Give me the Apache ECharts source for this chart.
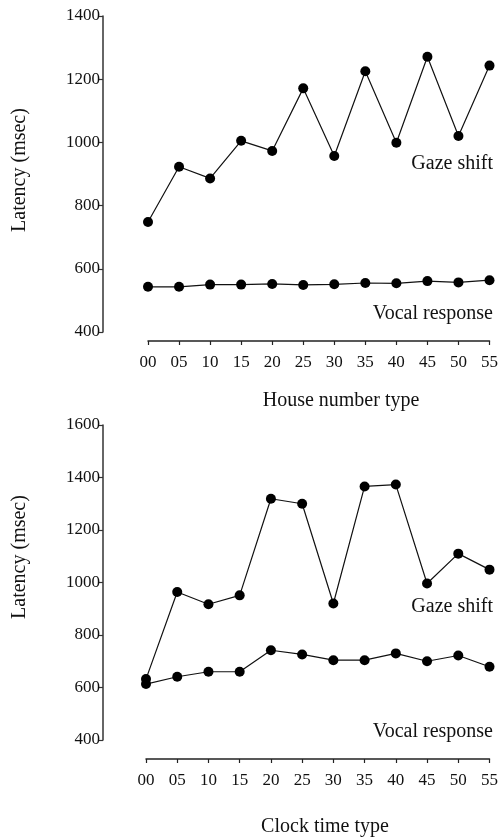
<!DOCTYPE html>
<html>
<head>
<meta charset="utf-8">
<script src="https://cdn.jsdelivr.net/npm/echarts@6/dist/echarts.min.js"></script>
<style>
  html, body { margin: 0; padding: 0; background: #fff; }
  #chart { width: 501px; height: 837px; }
</style>
</head>
<body>
<div id="chart"></div>
<script>
// categories shared by both panels
const categories = ["00", "05", "10", "15", "20", "25", "30", "35", "40", "45", "50", "55"];

// top panel: house number type
const houseGaze = [748, 923, 886, 1005, 973, 1171, 957, 1225, 999, 1271, 1020, 1243];
const houseVocal = [543, 543, 550, 550, 552, 549, 551, 555, 554, 561, 557, 564];

// bottom panel: clock time type
const clockGaze = [632, 964, 917, 951, 1319, 1300, 920, 1366, 1373, 996, 1110, 1049];
const clockVocal = [613, 641, 660, 660, 742, 726, 704, 704, 730, 700, 722, 679];

const font = "Liberation Serif";
const ink = "#111";

let myChart = echarts.init(document.getElementById("chart"), null, { renderer: "canvas" });

function xAxisOf(gridIndex, offset) {
  return {
    type: "category",
    gridIndex: gridIndex,
    data: categories,
    boundaryGap: false,
    offset: offset,
    axisLine: { lineStyle: { color: "#222", width: 1.5 } },
    axisTick: { alignWithLabel: true, length: 4, lineStyle: { color: "#222", width: 1.2 } },
    axisLabel: { color: ink, fontFamily: font, fontSize: 17, margin: 13 },
    splitLine: { show: false },
  };
}

function yAxisOf(gridIndex, max, offset) {
  return {
    type: "value",
    gridIndex: gridIndex,
    min: 400,
    max: max,
    interval: 200,
    offset: offset,
    axisLine: { show: true, lineStyle: { color: "#333", width: 1.5 } },
    axisTick: { show: true, length: 5, lineStyle: { color: "#333", width: 1.2 } },
    axisLabel: { color: ink, fontFamily: font, fontSize: 17, margin: 3, formatter: (v) => String(v) },
    splitLine: { show: false },
  };
}

function lineOf(name, data, idx) {
  return {
    name: name,
    type: "line",
    xAxisIndex: idx,
    yAxisIndex: idx,
    data: data,
    symbol: "circle",
    symbolSize: 10,
    itemStyle: { color: "#000" },
    lineStyle: { color: "#111", width: 1.2 },
    animation: false,
  };
}

function label(text, x, y, opts) {
  return Object.assign({
    type: "text",
    x: x,
    y: y,
    style: {
      text: text,
      fill: ink,
      font: "20px '" + font + "'",
      align: "right",
      verticalAlign: "middle",
    },
  }, opts || {});
}

myChart.setOption({
  backgroundColor: "#fff",
  grid: [
    { left: 148, top: 16, width: 345, height: 316 },
    { left: 146, top: 425, width: 345, height: 315 },
  ],
  xAxis: [xAxisOf(0, 9), xAxisOf(1, 19)],
  yAxis: [yAxisOf(0, 1400, 45), yAxisOf(1, 1600, 43)],
  series: [
    lineOf("Gaze shift", houseGaze, 0),
    lineOf("Vocal response", houseVocal, 0),
    lineOf("Gaze shift", clockGaze, 1),
    lineOf("Vocal response", clockVocal, 1),
  ],
  graphic: [
    label("Gaze shift", 493, 164),
    label("Vocal response", 493, 314),
    label("Gaze shift", 493, 607),
    label("Vocal response", 493, 732),
    { type: "text", x: 341, y: 401, style: { text: "House number type", fill: ink, font: "20px '" + font + "'", align: "center", verticalAlign: "middle" } },
    { type: "text", x: 325, y: 827, style: { text: "Clock time type", fill: ink, font: "20px '" + font + "'", align: "center", verticalAlign: "middle" } },
    { type: "text", x: 20, y: 170, rotation: Math.PI / 2, style: { text: "Latency (msec)", fill: ink, font: "20px '" + font + "'", align: "center", verticalAlign: "middle" } },
    { type: "text", x: 20, y: 557, rotation: Math.PI / 2, style: { text: "Latency (msec)", fill: ink, font: "20px '" + font + "'", align: "center", verticalAlign: "middle" } },
  ],
});
</script>
</body>
</html>
